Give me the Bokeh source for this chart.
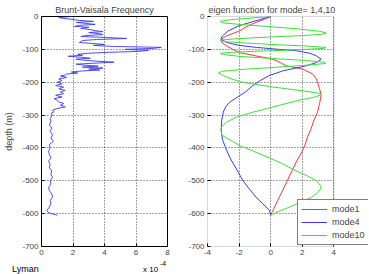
from bokeh.plotting import figure
from bokeh.models import Range1d, FixedTicker, Legend, LegendItem, BoxAnnotation, Div
from bokeh.layouts import row, column
from bokeh.embed import file_html
from bokeh.resources import INLINE

# ---- data ----
bv_depth = [0, -3, -6, -9, -12, -15, -18, -21, -24, -27, -30, -33, -36, -40, -43, -46, -49, -52,
            -55, -58, -61, -64, -67, -70, -73, -76, -79, -82, -85, -88, -91, -94, -97, -100, -103,
            -106, -109, -112, -115, -118, -121, -124, -127, -130, -133, -136, -139, -142, -145,
            -148, -151, -154, -157, -160, -163, -166, -169, -172, -175, -178, -181, -185, -190,
            -195, -200, -205, -210, -215, -220, -225, -230, -235, -240, -245, -250, -255, -260,
            -265, -270, -275, -280, -285, -290, -295, -300, -310, -320, -330, -340, -350, -360,
            -370, -380, -390, -400, -410, -420, -430, -440, -450, -460, -470, -480, -490, -500,
            -510, -520, -530, -540, -550, -560, -570, -580, -590, -595, -600, -603, -605]
bv_freq = [1.9, 1.1, 1.4, 2.0, 2.4, 3.3, 2.2, 2.8, 3.4, 2.4, 2.1, 3.0, 2.5, 3.1, 3.4, 3.9, 3.0, 3.6,
           3.9, 2.8, 2.5, 4.2, 5.4, 3.5, 2.6, 2.5, 2.4, 3.2, 4.0, 3.3, 4.5, 7.6, 7.1, 5.3, 6.8,
           6.2, 4.3, 2.9, 2.3, 2.6, 1.7, 2.5, 3.1, 2.2, 2.7, 3.5, 4.6, 3.4, 2.2,
           2.7, 3.6, 2.6, 3.9, 3.0, 3.7, 2.5, 1.9, 2.3, 1.6, 1.5, 1.2, 1.6, 1.1,
           1.3, 1.0, 1.3, 0.9, 1.4, 1.1, 1.5, 1.2, 1.4, 0.9, 1.3, 0.8, 1.0, 1.1,
           1.4, 1.2, 1.5, 1.0, 0.7, 0.8, 0.6, 0.7, 0.55, 0.6, 0.5, 0.65, 0.55, 0.7,
           0.6, 0.75, 0.5, 0.55, 0.45, 0.5, 0.6, 0.45, 0.55, 0.5, 0.65, 0.6, 0.7, 0.55,
           0.6, 0.45, 0.5, 0.65, 0.7, 0.55, 0.6, 0.5, 0.35, 0.4, 0.6, 0.9, 1.0]

m1_depth = [0, -18, -30, -44, -59, -69, -79, -89, -100, -110, -120, -130, -140, -150, -160, -175,
            -190, -201, -220, -240, -265, -291, -315, -342, -365, -388, -410, -440, -470, -500,
            -530, -560, -590, -605]
m1_val = [0, -0.92, -1.5, -1.97, -2.8, -3.13, -3.1, -2.8, -2.4, -1.97, -0.92, 0.14, 0.6, 0.98, 2.03,
          2.66, 2.9, 2.97, 3.1, 3.2, 3.1, 2.97, 2.75, 2.56, 2.35, 2.2, 2.0, 1.65, 1.35, 1.05,
          0.75, 0.45, 0.15, 0]

m4_depth = [0, -14, -28, -44, -59, -68, -79, -88, -94, -100, -104, -112, -120, -130, -140, -150,
            -158, -165, -180, -196, -213, -230, -245, -261, -275, -291, -315, -342, -360, -377,
            -400, -428, -470, -499, -525, -550, -570, -590, -605]
m4_val = [0, -1.0, -2.0, -2.7, -3.05, -3.15, -2.8, -2.0, -0.9, 0.5, 1.6, 2.5, 2.9, 3.2, 2.9, 2.25,
          1.5, 0.8, -0.1, -0.7, -1.2, -1.6, -2.1, -2.6, -2.85, -3.0, -3.1, -3.13, -3.1, -3.03,
          -2.85, -2.6, -2.1, -1.76, -1.35, -0.92, -0.5, -0.07, 0]

m10_depth = [0, -5, -10, -15, -19, -24, -30, -38, -45, -50, -54, -58, -63, -68, -72, -76, -81, -86,
             -90, -94, -97, -101, -105, -109, -112, -116, -122, -128, -134, -139, -143, -148,
             -155, -161, -167, -172, -180, -190, -200, -215, -226, -233, -238, -245, -255, -266,
             -280, -291, -305, -322, -335, -345, -360, -370, -380, -392, -410, -430, -448, -465,
             -480, -499, -514, -522, -535, -550, -565, -580, -595, -605]
m10_val = [0, -1.3, -2.6, -3.2, -3.1, -2.0, -0.3, 1.8, 3.1, 3.5, 3.3, 2.0, -0.3, -2.3, -3.2, -3.0,
           -1.5, 0.5, 2.3, 3.5, 3.4, 1.8, -0.5, -2.5, -3.2, -3.0, -1.8, 0.2, 2.2, 3.4, 3.5, 2.3,
           0.2, -1.8, -3.1, -3.3, -3.0, -2.5, -1.8, 0.2, 2.0, 3.0, 3.2, 2.8, 1.8, 0.9,
           -0.2, -1.1, -2.1, -2.8, -3.1, -3.15, -3.1, -2.8, -2.4, -2.0, -1.1, -0.1, 0.75, 1.4,
           2.1, 2.9, 3.15, 3.2, 3.0, 2.6, 1.9, 1.2, 0.4, 0]

depth_ticks = [-700, -600, -500, -400, -300, -200, -100, 0]
left_xticks = [0, 2, 4, 6, 8]
right_xticks = [-4, -2, 0, 2, 4]
legend_labels = ["mode1", "mode4", "mode10"]

FONT = "Liberation Sans"
RED = "#f03a3a"
BLUE = "#3a3af0"
GREEN = "#3ae03a"
FIG_H = 260


def style(p, xticks, ylabel=None):
    p.title.text_font = FONT
    p.title.text_font_size = "9px"
    p.title.text_font_style = "normal"
    p.title.standoff = 3
    p.xaxis.ticker = FixedTicker(ticks=xticks)
    p.yaxis.ticker = FixedTicker(ticks=depth_ticks)
    p.xaxis.major_label_overrides = {t: str(t) for t in xticks}
    p.yaxis.major_label_overrides = {t: str(t) for t in depth_ticks}
    for ax in (p.xaxis[0], p.yaxis[0]):
        ax.major_label_text_font = FONT
        ax.major_label_text_font_size = "8px"
        ax.major_label_standoff = 3
        ax.major_tick_in = 3
        ax.major_tick_out = 0
        ax.minor_tick_in = 0
        ax.minor_tick_out = 0
        ax.axis_line_color = "black"
        ax.major_tick_line_color = "black"
    if ylabel:
        p.yaxis.axis_label = ylabel
        p.yaxis.axis_label_text_font = FONT
        p.yaxis.axis_label_text_font_size = "9px"
        p.yaxis.axis_label_text_font_style = "normal"
        p.yaxis.axis_label_standoff = 5
    for g in (p.xgrid[0], p.ygrid[0]):
        g.grid_line_color = "#444444"
        g.grid_line_dash = "1 2"
        g.grid_line_width = 1


# ---- left panel ----
p1 = figure(width=185, height=FIG_H, output_backend="svg", toolbar_location=None,
            x_range=Range1d(0, 8), y_range=Range1d(-700, 0),
            min_border_left=41, min_border_right=18, min_border_top=16, min_border_bottom=14,
            title="Brunt-Vaisala Frequency")
style(p1, left_xticks, "depth (m)")
p1.title.align = "center"
p1.outline_line_color = "black"
p1.line(bv_freq, bv_depth, line_color=BLUE, line_width=0.9)

# ---- right panel (frame extended to the right so the legend can overhang the axes box) ----
p2 = figure(width=184, height=FIG_H, output_backend="svg", toolbar_location=None,
            x_range=Range1d(-4, 6.2), y_range=Range1d(-700, 0),
            min_border_left=21, min_border_right=1, min_border_top=16, min_border_bottom=14,
            title="eigen function for mode= 1,4,10")
style(p2, right_xticks)
p2.title.align = "left"
p2.title.offset = 1
p2.outline_line_color = None
p2.xaxis.axis_line_color = None
p2.yaxis.axis_line_color = None
p2.add_layout(BoxAnnotation(left=4, fill_color="white", fill_alpha=1, line_color=None))
p2.add_layout(BoxAnnotation(left=-4, right=4, bottom=-700, top=0, fill_alpha=0,
                            line_color="black", line_width=1))
r1 = p2.line(m1_val, m1_depth, line_color=RED, line_width=1)
r4 = p2.line(m4_val, m4_depth, line_color=BLUE, line_width=1)
r10 = p2.line(m10_val, m10_depth, line_color=GREEN, line_width=1)

legend = Legend(items=[LegendItem(label=legend_labels[0], renderers=[r1]),
                       LegendItem(label=legend_labels[1], renderers=[r4]),
                       LegendItem(label=legend_labels[2], renderers=[r10])],
                location=(90, 1))
legend.border_line_color = "black"
legend.border_line_width = 1
legend.background_fill_color = "white"
legend.background_fill_alpha = 1
legend.label_text_font = FONT
legend.label_text_font_size = "9px"
legend.glyph_width = 26
legend.glyph_height = 12
legend.label_height = 12
legend.spacing = 1
legend.padding = 3
legend.margin = 0
legend.label_standoff = 5
p2.add_layout(legend)

# ---- bottom line texts ----
foot = Div(text=(
    "<div style=\"position:relative;width:369px;height:14px;font-family:'Liberation Sans',Arial,sans-serif;color:#000;\">"
    "<span style=\"position:absolute;left:12px;top:5px;font-size:9px;line-height:9px;\">Lyman</span>"
    "<span style=\"position:absolute;left:143px;top:6px;font-size:8px;line-height:8px;\">x 10</span>"
    "<span style=\"position:absolute;left:160px;top:0px;font-size:7px;line-height:7px;\">-4</span>"
    "</div>"), width=369, height=14, margin=(0, 0, 0, 0))

layout = column(row(p1, p2), foot)
open("out.html", "w").write(file_html(layout, INLINE))
